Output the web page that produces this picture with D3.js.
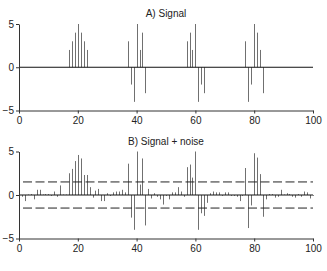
<!DOCTYPE html>
<html>
<head>
<meta charset="utf-8">
<script src="https://cdn.jsdelivr.net/npm/d3@7"></script>
<style>
  body { margin: 0; background: #fff; }
  svg { font-family: "Liberation Sans", Arial, sans-serif; }
</style>
</head>
<body>
<div id="chart"></div>
<script>
// Sample positions 1..100
const positions = [
    1, 2, 3, 4, 5, 6, 7, 8, 9, 10,
    11, 12, 13, 14, 15, 16, 17, 18, 19, 20,
    21, 22, 23, 24, 25, 26, 27, 28, 29, 30,
    31, 32, 33, 34, 35, 36, 37, 38, 39, 40,
    41, 42, 43, 44, 45, 46, 47, 48, 49, 50,
    51, 52, 53, 54, 55, 56, 57, 58, 59, 60,
    61, 62, 63, 64, 65, 66, 67, 68, 69, 70,
    71, 72, 73, 74, 75, 76, 77, 78, 79, 80,
    81, 82, 83, 84, 85, 86, 87, 88, 89, 90,
    91, 92, 93, 94, 95, 96, 97, 98, 99, 100
];

// A) clean signal
const signal = [
    0, 0, 0, 0, 0, 0, 0, 0, 0, 0,
    0, 0, 0, 0, 0, 0, 2, 3, 4, 5,
    4, 3, 2, 0, 0, 0, 0, 0, 0, 0,
    0, 0, 0, 0, 0, 0, 3, -2, -4, 5,
    2, 4, -3, 0, 0, 0, 0, 0, 0, 0,
    0, 0, 0, 0, 0, 0, 3, 4, 2, 5,
    -4, -2, -3, 0, 0, 0, 0, 0, 0, 0,
    0, 0, 0, 0, 0, 0, 3, -4, -2, 5,
    4, 2, -3, 0, 0, 0, 0, 0, 0, 0,
    0, 0, 0, 0, 0, 0, 0, 0, 0, 0
];

// B) signal + noise
const noisy = [
    -0.2, -0.7, 0.05, 0.1, -0.5, 0.6, 0.6, 0.05, 0.1, 0.1,
    -0.1, 0.4, -0.2, 1.1, 0.05, 0.05, 2.5, 3.0, 3.9, 4.6,
    4.2, 2.3, 2.3, 0.9, -0.3, 0.5, 0.7, -0.7, -0.7, 0.2,
    -0.1, 0.3, 0.4, 0.4, 0.6, 0.3, 3.6, -2.6, -4.0, 5.0,
    1.2, 4.2, -3.5, 0.7, -0.4, 0.2, -0.2, -0.5, -1.1, -0.1,
    -0.5, 0.3, 0.3, 0.9, 0.4, -0.2, 3.2, 3.5, 2.0, 5.0,
    -4.0, -2.1, -2.4, -0.9, 0.2, 0.4, 0.3, 0.3, -0.1, 0.3,
    0.3, -0.1, -0.1, -0.2, -0.7, -0.1, 3.1, -3.8, -1.2, 4.8,
    4.3, 2.4, -2.5, -0.5, 0.1, 0.1, -0.3, -0.2, 0.6, 0.05,
    0.2, 0.1, -0.2, -0.3, 0.1, -0.2, 0.4, 0.3, -0.4, -0.1
];

const thresholds = [1.5, -1.5];
const xTicks = [0, 20, 40, 60, 80, 100];
const yTicks = [-5, 0, 5];

const width = 327;
const height = 271;

const svg = d3.select('#chart')
    .append('svg')
    .attr('width', width)
    .attr('height', height);

const xScale = d3.scaleLinear()
    .domain([0, 100])
    .range([19, 313]);

function drawPanel(title, values, top, bottom, lines) {
    const yScale = d3.scaleLinear()
        .domain([-5, 5])
        .range([bottom, top]);

    const g = svg.append('g');

    // Title
    g.append('text')
        .attr('x', 166)
        .attr('y', top - 7)
        .attr('text-anchor', 'middle')
        .style('font-size', '10px')
        .style('fill', '#222')
        .text(title);

    // Bars
    g.selectAll('.bar')
        .data(positions)
        .enter()
        .append('line')
        .attr('class', 'bar')
        .attr('x1', d => Math.round(xScale(d)) + 0.5)
        .attr('x2', d => Math.round(xScale(d)) + 0.5)
        .attr('y1', yScale(0))
        .attr('y2', (d, i) => yScale(values[i]))
        .style('stroke', '#707070')
        .style('stroke-width', 1);

    // Zero line
    g.append('line')
        .attr('x1', xScale(0))
        .attr('x2', xScale(100))
        .attr('y1', yScale(0))
        .attr('y2', yScale(0))
        .style('stroke', '#111')
        .style('stroke-width', 1);

    // Threshold lines
    lines.forEach(v => {
        g.append('line')
            .attr('x1', xScale(0) + 4)
            .attr('x2', xScale(100))
            .attr('y1', yScale(v))
            .attr('y2', yScale(v))
            .style('stroke', '#222')
            .style('stroke-width', 1)
            .style('stroke-dasharray', '9,3.5');
    });

    // Axes
    const yAxis = g.append('g')
        .attr('transform', `translate(${xScale(0)},0)`)
        .call(d3.axisLeft(yScale).tickValues(yTicks).tickSize(3).tickSizeOuter(0));

    const xAxis = g.append('g')
        .attr('transform', `translate(0,${bottom})`)
        .call(d3.axisBottom(xScale).tickValues(xTicks).tickSize(3).tickSizeOuter(0));

    [yAxis, xAxis].forEach(ax => {
        ax.select('.domain').style('stroke', '#333');
        ax.selectAll('.tick line').style('stroke', '#333');
        ax.selectAll('text')
            .style('font-size', '10px')
            .style('fill', '#222')
            .style('font-family', '"Liberation Sans", Arial, sans-serif');
    });
    yAxis.selectAll('text').attr('x', -5);
    xAxis.selectAll('text').attr('y', 6);
}

drawPanel('A) Signal', signal, 24, 110.5, []);
drawPanel('B) Signal + noise', noisy, 151.5, 238.5, thresholds);
</script>
</body>
</html>
